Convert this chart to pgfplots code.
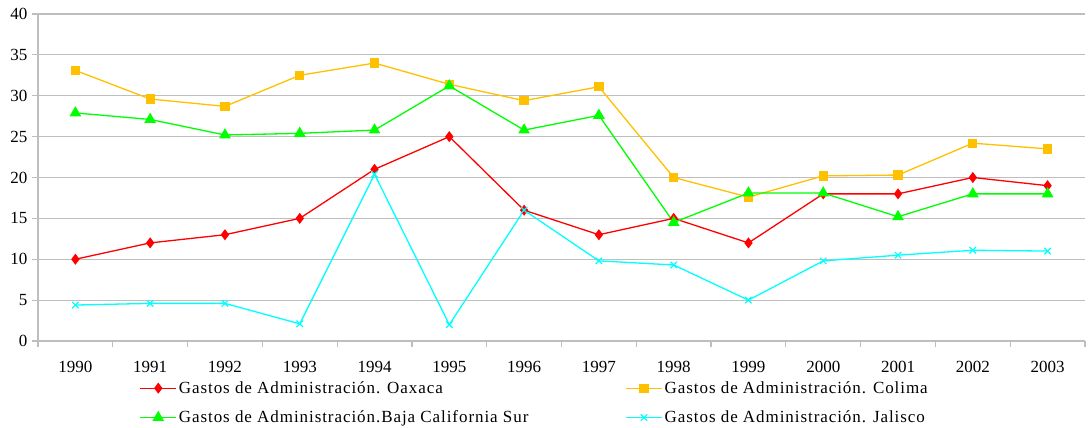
\documentclass[border=0pt]{standalone}
\usepackage{pgfplots}
\pgfplotsset{compat=1.18}
\usepackage{fontspec}
\setmainfont{Liberation Serif}
\definecolor{cRed}{RGB}{255,0,0}
\definecolor{cYel}{RGB}{255,192,0}
\definecolor{cGrn}{RGB}{0,255,0}
\definecolor{cCyn}{RGB}{0,255,255}
\definecolor{cGrid}{RGB}{190,190,190}
\begin{document}
\begin{tikzpicture}
\begin{axis}[
  at={(0pt,0pt)}, anchor=south west,
  scale only axis, width=1047pt, height=327pt,
  xmin=-0.5, xmax=13.5, ymin=0, ymax=40,
  xtick={0,...,13},
  xticklabels={1990,1991,1992,1993,1994,1995,1996,1997,1998,1999,2000,2001,2002,2003},
  minor xtick={-0.5,0.5,...,13.5},
  major x tick style={draw=none},
  minor x tick style={cGrid, line width=1.2pt},
  minor tick length=6pt,
  ytick={0,5,...,40},
  ymajorgrids, grid style={cGrid, line width=1.2pt},
  axis x line*=bottom, axis y line*=left,
  axis line style={cGrid, line width=1.2pt, -},
  tick align=outside,
  major tick length=6pt,
  y tick style={cGrid, line width=1.2pt},
  tick label style={font=\fontsize{17}{20}\selectfont},
  /pgf/number format/assume math mode=true,
  xticklabel style={yshift=-11pt},
  yticklabel style={xshift=-1pt},
  legend columns=2,
  legend cell align=left,
  legend style={at={(0.094,-0.111)}, anchor=north west, draw=none, fill=none,
    font=\fontsize{17}{20}\selectfont\addfontfeatures{LetterSpace=5.5}, row sep=12pt,
    /tikz/column 2/.style={column sep=95pt}},
  legend image code/.code={\draw[mark repeat=2,mark phase=2] plot coordinates {(0pt,0pt) (18pt,0pt) (36pt,0pt)};},
]
\addplot[cRed, line width=1.3pt, mark=diamond*, mark size=4.5pt, mark options={fill=cRed}] coordinates {
(0,10) (1,12) (2,13) (3,15) (4,21) (5,25) (6,16) (7,13) (8,15) (9,12) (10,18) (11,18) (12,20) (13,19)};
\addlegendentry{Gastos de Administración. Oaxaca}
\addplot[cYel, line width=1.3pt, mark=square*, mark size=4pt, mark options={fill=cYel}] coordinates {
(0,33.1) (1,29.6) (2,28.7) (3,32.5) (4,34.0) (5,31.4) (6,29.4) (7,31.1) (8,20.0) (9,17.6) (10,20.2) (11,20.3) (12,24.2) (13,23.5)};
\addlegendentry{Gastos de Administración. Colima}
\addplot[cGrn, line width=1.3pt, mark=triangle*, mark size=5.5pt, mark options={fill=cGrn}] coordinates {
(0,27.9) (1,27.1) (2,25.2) (3,25.4) (4,25.8) (5,31.2) (6,25.8) (7,27.6) (8,14.5) (9,18.1) (10,18.1) (11,15.2) (12,18.0) (13,18.0)};
\addlegendentry{Gastos de Administración.Baja California Sur}
\addplot[cCyn, line width=1.3pt, mark=x, mark size=4.5pt, mark options={line width=1.2pt}] coordinates {
(0,4.4) (1,4.6) (2,4.6) (3,2.1) (4,20.4) (5,2.0) (6,16.0) (7,9.8) (8,9.3) (9,5.0) (10,9.8) (11,10.5) (12,11.1) (13,11.0)};
\addlegendentry{Gastos de Administración. Jalisco}
\end{axis}
\pgfresetboundingbox
\useasboundingbox (-38pt,-87pt) rectangle (1051pt,341pt);
\end{tikzpicture}
\end{document}
